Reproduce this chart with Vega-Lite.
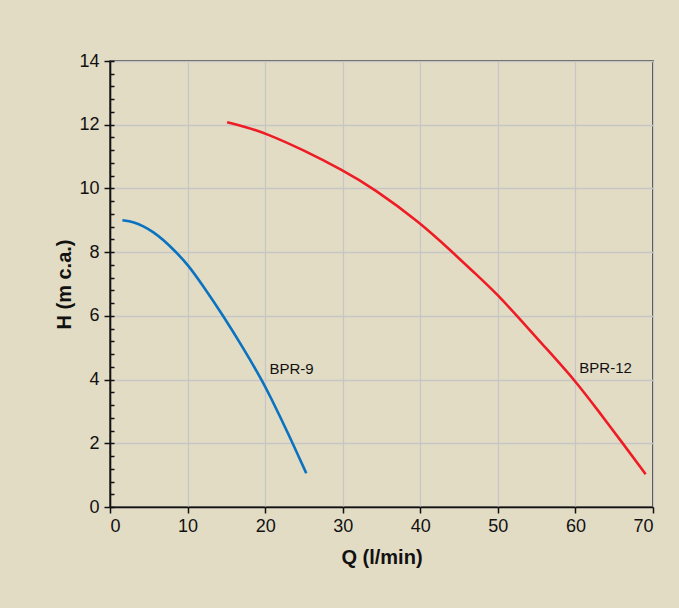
{
  "$schema": "https://vega.github.io/schema/vega-lite/v6.json",
  "width": 543,
  "height": 446,
  "autosize": {"type": "none"},
  "padding": {"left": 110, "top": 61, "right": 26, "bottom": 101},
  "background": "#e3dcc5",
  "config": {
    "view": {"stroke": "#2a2a2a", "strokeWidth": 1.6},
    "axis": {
      "labelFont": "Liberation Sans",
      "labelFontSize": 18,
      "labelColor": "#111111",
      "titleFont": "Liberation Sans",
      "titleFontSize": 20,
      "titleFontWeight": "bold",
      "titleColor": "#111111",
      "domainColor": "#111111",
      "domainWidth": 1.6,
      "tickColor": "#111111",
      "tickWidth": 1.5,
      "gridColor": "#c6c6c6",
      "gridWidth": 1.3
    }
  },
  "datasets": {
    "curves": [
      {"pump": "BPR-9", "Q": 1.6, "H": 9.0},
      {"pump": "BPR-9", "Q": 3.0, "H": 8.95},
      {"pump": "BPR-9", "Q": 4.3, "H": 8.82},
      {"pump": "BPR-9", "Q": 5.6, "H": 8.63},
      {"pump": "BPR-9", "Q": 6.9, "H": 8.38},
      {"pump": "BPR-9", "Q": 8.4, "H": 8.03},
      {"pump": "BPR-9", "Q": 10.0, "H": 7.62},
      {"pump": "BPR-9", "Q": 12.0, "H": 6.94},
      {"pump": "BPR-9", "Q": 14.6, "H": 6.0},
      {"pump": "BPR-9", "Q": 17.2, "H": 4.98},
      {"pump": "BPR-9", "Q": 19.55, "H": 4.0},
      {"pump": "BPR-9", "Q": 20.6, "H": 3.5},
      {"pump": "BPR-9", "Q": 23.0, "H": 2.3},
      {"pump": "BPR-9", "Q": 25.3, "H": 1.06},
      {"pump": "BPR-12", "Q": 15.1, "H": 12.08},
      {"pump": "BPR-12", "Q": 17.5, "H": 11.93},
      {"pump": "BPR-12", "Q": 20, "H": 11.74},
      {"pump": "BPR-12", "Q": 25, "H": 11.2},
      {"pump": "BPR-12", "Q": 30, "H": 10.57},
      {"pump": "BPR-12", "Q": 34, "H": 10.0},
      {"pump": "BPR-12", "Q": 40, "H": 8.92},
      {"pump": "BPR-12", "Q": 44, "H": 8.03},
      {"pump": "BPR-12", "Q": 47, "H": 7.35},
      {"pump": "BPR-12", "Q": 50, "H": 6.66},
      {"pump": "BPR-12", "Q": 52.45, "H": 6.0},
      {"pump": "BPR-12", "Q": 56, "H": 5.04},
      {"pump": "BPR-12", "Q": 60, "H": 3.96},
      {"pump": "BPR-12", "Q": 63, "H": 3.0},
      {"pump": "BPR-12", "Q": 66.1, "H": 2.0},
      {"pump": "BPR-12", "Q": 69.05, "H": 1.03}
    ],
    "labels": [
      {"label": "BPR-9", "Q": 20.55, "H": 4.34},
      {"label": "BPR-12", "Q": 60.5, "H": 4.37}
    ]
  },
  "layer": [
    {
      "data": {"name": "curves"},
      "mark": {"type": "line", "interpolate": "basis", "strokeWidth": 2.6},
      "encoding": {
        "x": {
          "field": "Q", "type": "quantitative",
          "scale": {"domain": [0, 70], "nice": false, "zero": false},
          "axis": {"title": "Q (l/min)", "values": [0, 10, 20, 30, 40, 50, 60, 70], "tickSize": 6, "labelPadding": 4, "titlePadding": 12, "grid": true}
        },
        "y": {
          "field": "H", "type": "quantitative",
          "scale": {"domain": [0, 14], "nice": false, "zero": false},
          "axis": {"title": "H (m c.a.)", "values": [0, 2, 4, 6, 8, 10, 12, 14], "tickSize": 6, "labelPadding": 5, "titlePadding": 4, "grid": true}
        },
        "color": {
          "field": "pump", "type": "nominal",
          "scale": {"domain": ["BPR-9", "BPR-12"], "range": ["#0b72c0", "#ee1c25"]},
          "legend": null
        },
        "detail": {"field": "pump"}
      }
    },
    {
      "data": {"name": "labels"},
      "mark": {"type": "text", "align": "left", "baseline": "middle", "font": "Liberation Sans", "fontSize": 15, "color": "#111111"},
      "encoding": {
        "x": {"field": "Q", "type": "quantitative"},
        "y": {
          "field": "H", "type": "quantitative",
          "axis": {
            "orient": "left", "title": null, "labels": false, "domain": false, "grid": false,
            "offset": -4, "tickSize": 4,
            "values": [0, 0.4, 0.8, 1.2, 1.6, 2, 2.4, 2.8, 3.2, 3.6, 4, 4.4, 4.8, 5.2, 5.6, 6, 6.4, 6.8, 7.2, 7.6, 8, 8.4, 8.8, 9.2, 9.6, 10, 10.4, 10.8, 11.2, 11.6, 12, 12.4, 12.8, 13.2, 13.6, 14]
          }
        },
        "text": {"field": "label", "type": "nominal"}
      }
    }
  ],
  "resolve": {"scale": {"y": "shared", "x": "shared"}, "axis": {"y": "independent"}}
}
